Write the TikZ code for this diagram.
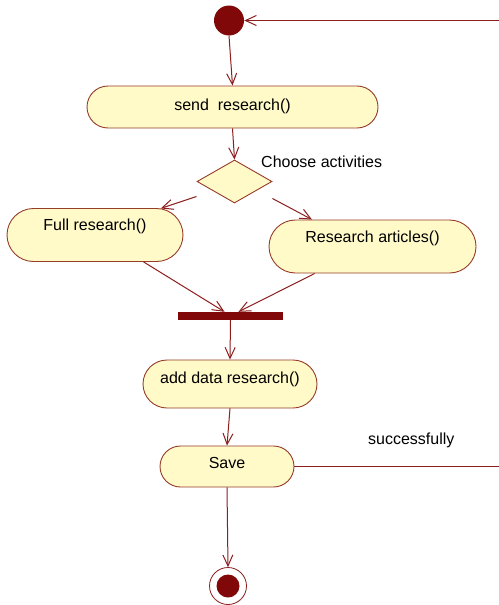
\documentclass[tikz,border=0pt]{standalone}
\usepackage{fontspec}
\setmainfont{Liberation Sans}
\usetikzlibrary{shapes.misc,shapes.geometric,arrows.meta}

\definecolor{umlline}{RGB}{140,30,30}
\definecolor{umlborder}{RGB}{150,60,40}
\definecolor{umlfill}{RGB}{255,250,200}
\definecolor{umldark}{RGB}{128,8,8}

\tikzset{
  umltext/.style={font=\fontsize{16}{19}\selectfont, text=black},
  % pill-shaped action state; the argument lifts the text above the middle
  activity/.style={rounded rectangle, draw=umlborder, fill=umlfill, line width=0.9pt,
    umltext, inner sep=0pt, text height=11.5pt, text depth=#1},
  activity/.default=0pt,
  flow/.style={draw=umlline, line width=1pt,
    -{Straight Barb[length=11pt,width=10pt,line width=1pt]}},
  guard/.style={umltext, inner sep=0pt, anchor=base west},
}

\begin{document}
\begin{tikzpicture}[x=1pt, y=-1pt]
  \useasboundingbox (0,0) rectangle (498,605);

  % initial and final states
  \node[circle, fill=umldark, minimum size=30pt, inner sep=0pt] (start) at (229,20.5) {};
  \node[circle, draw=umlline, fill=white, line width=0.8pt, minimum size=37pt, inner sep=0pt] (final) at (228,586) {};
  \node[circle, fill=umldark, minimum size=23pt, inner sep=0pt] (finalcore) at (final.center) {};

  % actions
  \node[activity=4pt, minimum width=291pt, minimum height=42pt] (send) at (232.5,107) {send\ \ research()};
  \node[diamond, draw=umlborder, fill=umlfill, line width=0.9pt, minimum width=75pt, minimum height=43pt, inner sep=0pt] (choice) at (234.5,181.5) {};
  \node[guard] (choicelbl) at (261,167) {Choose activities};
  \node[activity=20pt, minimum width=176pt, minimum height=53pt] (full) at (95,235) {Full research()};
  \node[activity=20pt, minimum width=207pt, minimum height=53pt] (articles) at (372.5,246.5) {Research articles()};
  \node[fill=umldark, minimum width=105pt, minimum height=8pt, inner sep=0pt] (join) at (230.5,316) {};
  \node[activity=12pt, minimum width=174pt, minimum height=48pt] (adddata) at (230,384) {add data research()};
  \node[activity=7pt, minimum width=134pt, minimum height=41pt] (save) at (227,466.5) {Save};
  \node[guard] (successlbl) at (368,444) {successfully};

  % loop back from Save to the start, routed past the right edge
  \coordinate (loopA) at (520,466.5);
  \coordinate (loopB) at (520,20.5);

  % transitions
  \draw[flow] (start.south) -- (send.north);
  \draw[flow] (send.south) -- (choice.north);
  \draw[flow] ([yshift=-15pt]choice.west) -- (full.22);
  \draw[flow] ([yshift=-17pt]choice.east) -- (articles.156);
  \draw[flow] (full.-29) -- ([xshift=-6pt]join.north);
  \draw[flow] (articles.205) -- ([xshift=8pt]join.north);
  \draw[flow] (join.south) -- (adddata.north);
  \draw[flow] (adddata.south) -- (save.north);
  \draw[flow] (save.south) -- (final.north);
  \draw[flow] (save.east) -- (loopA) -- (loopB) -- (start.east);
\end{tikzpicture}
\end{document}
